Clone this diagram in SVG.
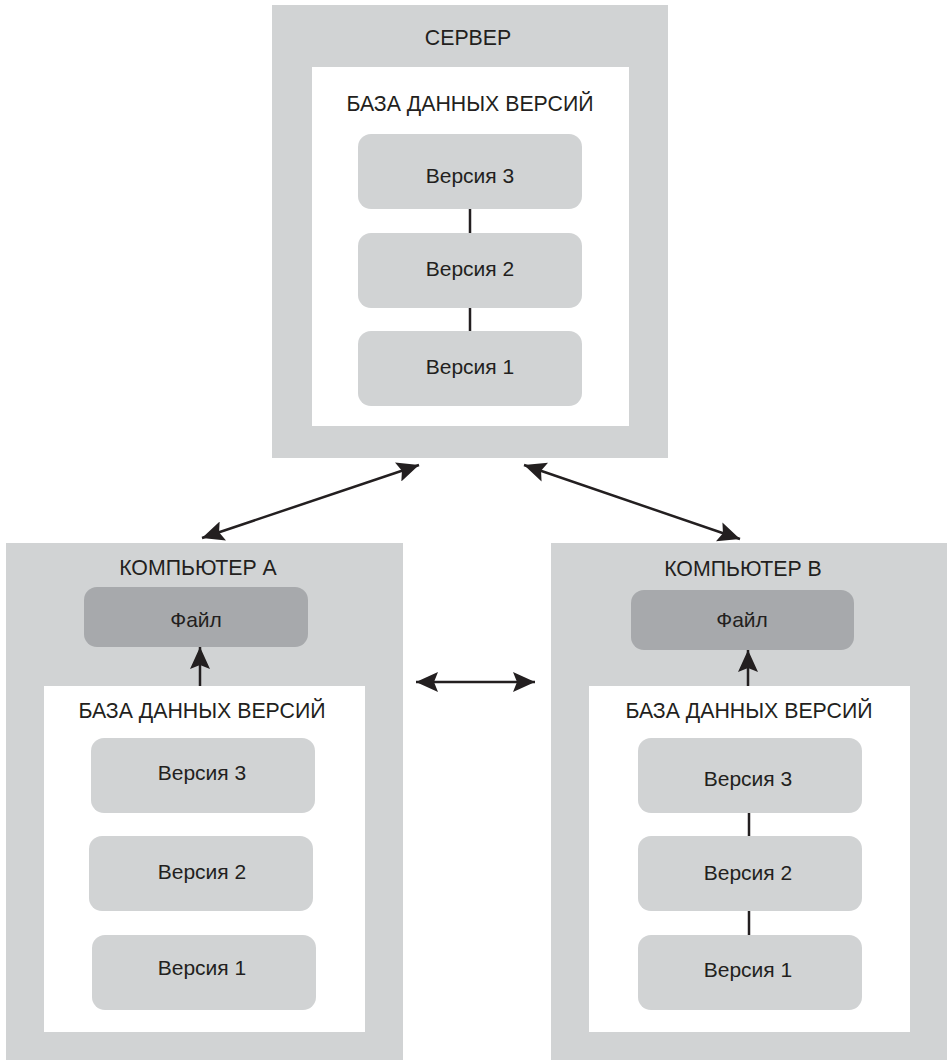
<svg xmlns="http://www.w3.org/2000/svg" width="947" height="1060" viewBox="0 0 947 1060">
<style>
.outer{fill:#d1d3d4}
.inner{fill:#ffffff}
.ver{fill:#d1d3d4}
.file{fill:#a7a9ac}
.t{font-family:"Liberation Sans",Arial,sans-serif;fill:#231f20;text-anchor:middle}
.h{font-size:21.3px}
.v{font-size:21px}
.link{stroke:#231f20;stroke-width:2.5;fill:none}
.arr{stroke:#231f20;stroke-width:2.5;fill:none;marker-start:url(#ah);marker-end:url(#ah)}
.up{stroke:#231f20;stroke-width:2.5;fill:none;marker-end:url(#ah)}
</style>
<defs>
<marker id="ah" viewBox="0 0 22 20" refX="22" refY="10" markerWidth="22" markerHeight="20" markerUnits="userSpaceOnUse" orient="auto-start-reverse">
<path d="M0,0 L22,10 L0,20 L4,10 Z" fill="#231f20"/>
</marker>
</defs>
<rect width="947" height="1060" fill="#ffffff"/>

<g id="server">
<rect class="outer" x="272" y="5" width="396" height="453"/>
<text class="t h" x="468" y="45">СЕРВЕР</text>
<rect class="inner" x="312" y="67" width="317" height="359"/>
<text class="t h" x="470" y="111">БАЗА ДАННЫХ ВЕРСИЙ</text>
</g>
<g id="server-v3"><rect class="ver" x="358" y="134" width="224" height="75" rx="13"/><text class="t v" x="470" y="183">Версия 3</text></g>
<g id="server-v2"><rect class="ver" x="358" y="233" width="224" height="75" rx="13"/><text class="t v" x="470" y="276">Версия 2</text></g>
<g id="server-v1"><rect class="ver" x="358" y="331" width="224" height="75" rx="13"/><text class="t v" x="470" y="374">Версия 1</text></g>

<g id="computer-a">
<rect class="outer" x="6" y="543" width="397" height="517"/>
<text class="t h" x="198" y="575">КОМПЬЮТЕР А</text>
<rect class="inner" x="44" y="686" width="321" height="346"/>
<text class="t h" x="202" y="718">БАЗА ДАННЫХ ВЕРСИЙ</text>
</g>
<g id="a-file"><rect class="file" x="84" y="587" width="224" height="60" rx="13"/><text class="t v" x="196" y="627">Файл</text></g>
<g id="a-v3"><rect class="ver" x="91" y="738" width="224" height="75" rx="13"/><text class="t v" x="202" y="780">Версия 3</text></g>
<g id="a-v2"><rect class="ver" x="89" y="836" width="224" height="75" rx="13"/><text class="t v" x="202" y="879">Версия 2</text></g>
<g id="a-v1"><rect class="ver" x="92" y="935" width="224" height="75" rx="13"/><text class="t v" x="202" y="975">Версия 1</text></g>

<g id="computer-b">
<rect class="outer" x="551" y="543" width="396" height="517"/>
<text class="t h" x="743" y="576">КОМПЬЮТЕР В</text>
<rect class="inner" x="589" y="686" width="321" height="346"/>
<text class="t h" x="749" y="718">БАЗА ДАННЫХ ВЕРСИЙ</text>
</g>
<g id="b-file"><rect class="file" x="631" y="590" width="223" height="60" rx="13"/><text class="t v" x="742" y="627">Файл</text></g>
<g id="b-v3"><rect class="ver" x="638" y="738" width="224" height="75" rx="13"/><text class="t v" x="748" y="786">Версия 3</text></g>
<g id="b-v2"><rect class="ver" x="638" y="836" width="224" height="75" rx="13"/><text class="t v" x="748" y="880">Версия 2</text></g>
<g id="b-v1"><rect class="ver" x="638" y="935" width="224" height="75" rx="13"/><text class="t v" x="748" y="977">Версия 1</text></g>

<g id="connectors">
<line class="link" x1="470" y1="209" x2="470" y2="233"/>
<line class="link" x1="470" y1="308" x2="470" y2="331"/>
<line class="link" x1="749" y1="813" x2="749" y2="836"/>
<line class="link" x1="749" y1="911" x2="749" y2="935"/>
<line class="arr" x1="202" y1="538" x2="419" y2="465"/>
<line class="arr" x1="524" y1="465" x2="740" y2="539"/>
<line class="arr" x1="416" y1="682" x2="535" y2="682"/>
<line class="up" x1="200" y1="686" x2="200" y2="647"/>
<line class="up" x1="748" y1="686" x2="748" y2="650"/>
</g>
</svg>
